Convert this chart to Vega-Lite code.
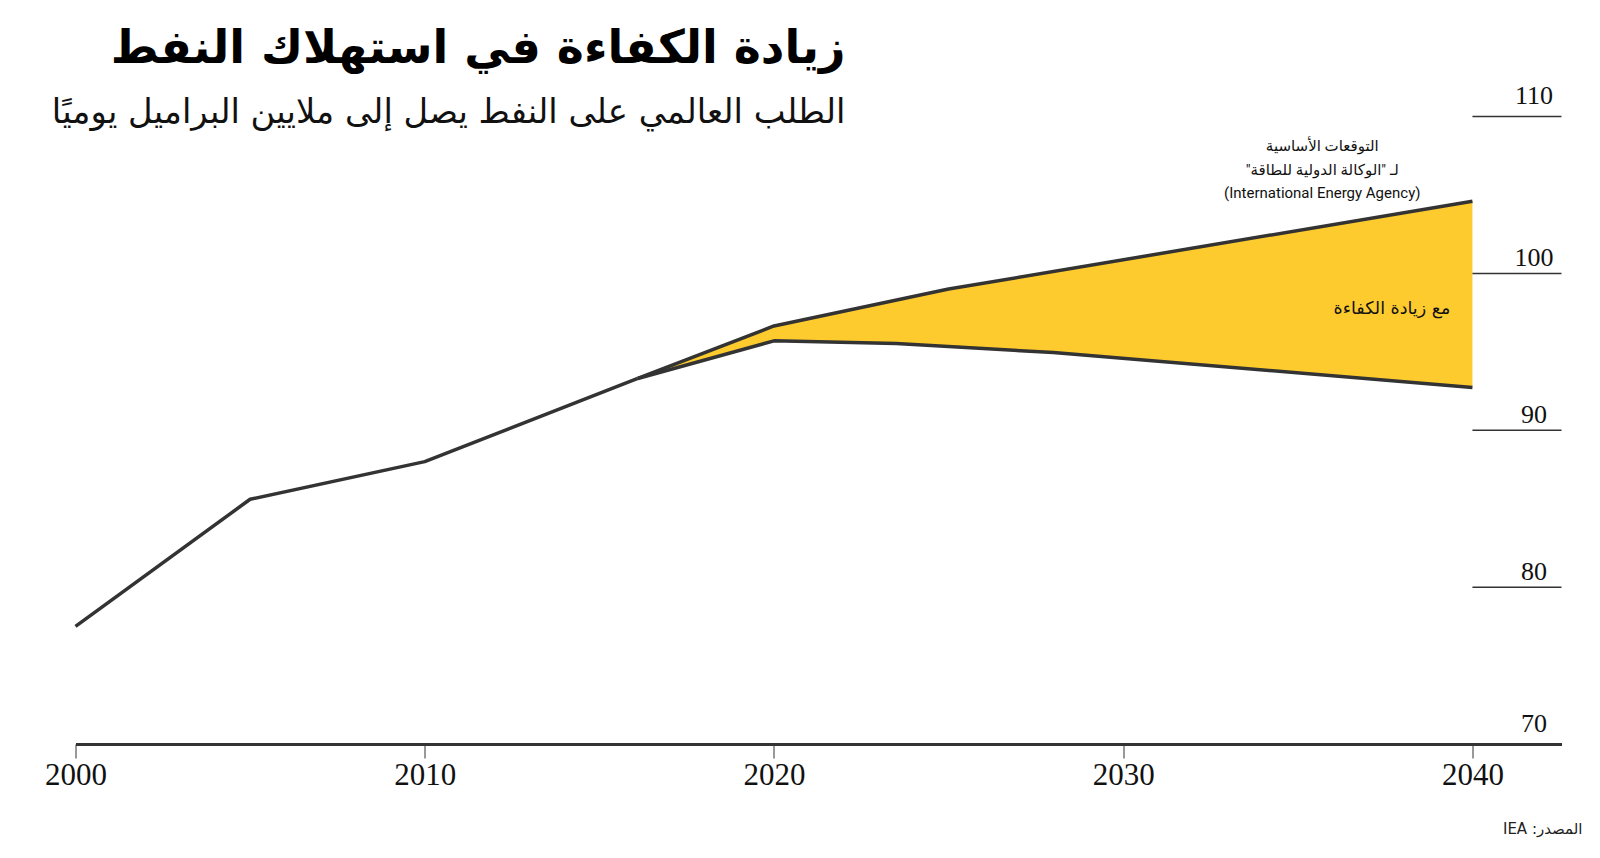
{
  "$schema": "https://vega.github.io/schema/vega-lite/v6.json",
  "width": 1486,
  "height": 627.5,
  "autosize": {"type": "none"},
  "padding": {"left": 75.5, "top": 116.5, "right": 38.5, "bottom": 114},
  "background": "white",
  "config": {"view": {"stroke": null}},
  "title": {
    "text": "زيادة الكفاءة في استهلاك النفط",
    "subtitle": "الطلب العالمي على النفط يصل إلى ملايين البراميل يوميًا",
    "anchor": "start",
    "frame": "group",
    "align": "right",
    "dx": 770,
    "offset": -48,
    "font": "DejaVu Sans",
    "fontSize": 46,
    "fontWeight": "bold",
    "color": "#000000",
    "subtitleFont": "DejaVu Sans",
    "subtitleFontSize": 33.8,
    "subtitleColor": "#111111",
    "subtitlePadding": 23
  },
  "datasets": {
    "demand": [
      {"year": 2000, "v": 77.5, "s": "hist"},
      {"year": 2005, "v": 85.6, "s": "hist"},
      {"year": 2010, "v": 88.0, "s": "hist"},
      {"year": 2016.1, "v": 93.3, "s": "hist"},
      {"year": 2016.1, "v": 93.3, "s": "upper"},
      {"year": 2020, "v": 96.65, "s": "upper"},
      {"year": 2025, "v": 99.0, "s": "upper"},
      {"year": 2040, "v": 104.6, "s": "upper"},
      {"year": 2016.1, "v": 93.3, "s": "lower"},
      {"year": 2020, "v": 95.7, "s": "lower"},
      {"year": 2023.5, "v": 95.53, "s": "lower"},
      {"year": 2028, "v": 94.95, "s": "lower"},
      {"year": 2040, "v": 92.73, "s": "lower"}
    ],
    "grid": [{"g": 80}, {"g": 90}, {"g": 100}, {"g": 110}],
    "notes": [
      {"year": 2035.7, "v": 108.1, "t": "التوقعات الأساسية"},
      {"year": 2035.7, "v": 106.6, "t": "لـ \"الوكالة الدولية للطاقة\"‏"},
      {"year": 2035.7, "v": 105.1, "t": "(International Energy Agency)"}
    ],
    "label": [{"year": 2039.37, "v": 97.7, "t": "مع زيادة الكفاءة"}]
  },
  "layer": [
    {
      "data": {"name": "demand"},
      "transform": [{"filter": "datum.s === 'upper'"}],
      "mark": {"type": "area", "color": "#FECB2F", "opacity": 1},
      "encoding": {
        "x": {"field": "year", "type": "quantitative", "scale": {"domain": [2000, 2042.55], "nice": false, "zero": false},
              "axis": {"orient": "bottom", "values": [2000, 2010, 2020, 2030, 2040], "format": "d", "labelFont": "Liberation Serif", "labelFontSize": 31, "labelColor": "#111111", "tickSize": 14, "tickColor": "#333333", "tickWidth": 1, "domainColor": "#333333", "domainWidth": 3, "labelPadding": 2, "grid": false, "labelFlush": false, "labelOverlap": false, "zindex": 1,
                       "title": "IEA :المصدر", "titleFont": "DejaVu Sans", "titleFontSize": 15, "titleFontWeight": "normal", "titleColor": "#222222", "titleX": 1506.5, "titleY": 89, "titleAlign": "right", "titleBaseline": "alphabetic", "titleAnchor": null}},
        "y": {"field": "v", "type": "quantitative", "scale": {"domain": [70, 110], "nice": false, "zero": false},
              "axis": {"orient": "right", "values": [70, 80, 90, 100, 110], "labelFont": "Liberation Serif", "labelFontSize": 26, "labelColor": "#111111", "domain": false, "ticks": false, "grid": false, "labelAlign": "center", "labelPadding": -28, "labelBaseline": "alphabetic", "labelOffset": {"condition": {"test": "datum.value == 110 || datum.value == 70", "value": -13}, "value": -8}, "labelFlush": false, "labelOverlap": false, "title": null}},
        "y2": {"datum": 70}
      }
    },
    {
      "data": {"name": "demand"},
      "transform": [{"filter": "datum.s === 'lower'"}],
      "mark": {"type": "area", "color": "#FFFFFF", "opacity": 1, "stroke": "#FFFFFF", "strokeWidth": 1.5},
      "encoding": {
        "x": {"field": "year", "type": "quantitative", "scale": {"domain": [2000, 2042.55], "nice": false, "zero": false}},
        "y": {"field": "v", "type": "quantitative", "scale": {"domain": [70, 110], "nice": false, "zero": false}},
        "y2": {"datum": 70}
      }
    },
    {
      "data": {"name": "grid"},
      "mark": {"type": "rule", "color": "#333333", "strokeWidth": 1.5},
      "encoding": {
        "x": {"datum": 2040, "type": "quantitative", "scale": {"domain": [2000, 2042.55], "nice": false, "zero": false}},
        "x2": {"datum": 2042.55},
        "y": {"field": "g", "type": "quantitative", "scale": {"domain": [70, 110], "nice": false, "zero": false}}
      }
    },
    {
      "data": {"name": "demand"},
      "mark": {"type": "line", "color": "#333333", "strokeWidth": 3.5, "strokeJoin": "round"},
      "encoding": {
        "x": {"field": "year", "type": "quantitative", "scale": {"domain": [2000, 2042.55], "nice": false, "zero": false}},
        "y": {"field": "v", "type": "quantitative", "scale": {"domain": [70, 110], "nice": false, "zero": false}},
        "detail": {"field": "s", "type": "nominal"}
      }
    },
    {
      "data": {"name": "notes"},
      "mark": {"type": "text", "align": "center", "baseline": "middle", "font": "Roboto, DejaVu Sans", "fontSize": 15, "color": "#111111"},
      "encoding": {
        "x": {"field": "year", "type": "quantitative", "scale": {"domain": [2000, 2042.55], "nice": false, "zero": false}},
        "y": {"field": "v", "type": "quantitative", "scale": {"domain": [70, 110], "nice": false, "zero": false}},
        "text": {"field": "t", "type": "nominal"}
      }
    },
    {
      "data": {"name": "label"},
      "mark": {"type": "text", "align": "right", "baseline": "middle", "font": "DejaVu Sans", "fontSize": 17.5, "color": "#111111"},
      "encoding": {
        "x": {"field": "year", "type": "quantitative", "scale": {"domain": [2000, 2042.55], "nice": false, "zero": false}},
        "y": {"field": "v", "type": "quantitative", "scale": {"domain": [70, 110], "nice": false, "zero": false}},
        "text": {"field": "t", "type": "nominal"}
      }
    }
  ]
}
